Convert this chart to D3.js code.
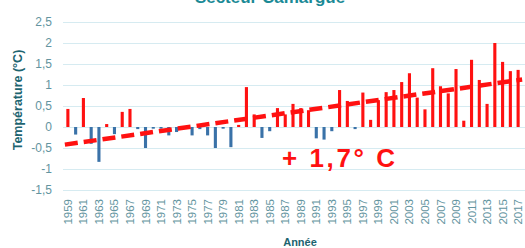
<!DOCTYPE html>
<html>
<head>
<meta charset="utf-8">
<script src="https://cdn.jsdelivr.net/npm/d3@7"></script>
<style>
  html, body { margin: 0; padding: 0; background: #fff; }
  svg { display: block; font-family: "Liberation Sans", Arial, sans-serif; }
</style>
</head>
<body>
<div id="chart"></div>
<script>
// Annual temperature anomaly, Secteur Camargue, with dashed linear trend.

const years = d3.range(1959, 2018);
const anomalies = [
  0.43, -0.18, 0.69, -0.40, -0.83, 0.07, -0.17, 0.36, 0.43, -0.05,
  -0.50, -0.04, -0.04, -0.20, -0.12, -0.04, -0.20, -0.05, -0.20, -0.50,
  -0.04, -0.48, 0.05, 0.95, 0.30, -0.26, -0.10, 0.45, 0.30, 0.55,
  0.45, 0.40, -0.27, -0.30, -0.10, 0.88, 0.62, -0.05, 0.82, 0.17,
  0.64, 0.83, 0.88, 1.07, 1.28, 0.70, 0.42, 1.40, 0.97, 0.80,
  1.38, 0.15, 1.60, 1.12, 0.55, 2.00, 1.55, 1.33, 1.36
];
const trendYears = [1959, 2017];
const trendValues = [-0.42, 1.13];
const yTicks = [-1.5, -1, -0.5, 0, 0.5, 1, 1.5, 2, 2.5];
const yTickLabels = ['-1,5', '-1', '-0,5', '0', '0,5', '1', '1,5', '2', '2,5'];
const yearLabels = years.filter((y) => (y - 1959) % 2 === 0);

const W = 525, H = 248;
const plot = { left: 64, right: 522, top: 22, bottom: 190 };

const svg = d3.select('#chart').append('svg')
  .attr('width', W).attr('height', H);

const x = d3.scaleBand().domain(years)
  .range([plot.left, plot.right])
  .paddingInner(0.6).paddingOuter(0.3);
const y = d3.scaleLinear().domain([-1.5, 2.5]).range([plot.bottom, plot.top]);

// gridlines
svg.append('g').selectAll('line').data(yTicks).enter().append('line')
  .attr('x1', plot.left - 1).attr('x2', W)
  .attr('y1', (d) => Math.round(y(d)) + 0.5).attr('y2', (d) => Math.round(y(d)) + 0.5)
  .attr('stroke', '#d6ebf1').attr('stroke-width', 1);

// y tick labels
svg.append('g').selectAll('text').data(yTicks).enter().append('text')
  .attr('x', 52).attr('y', (d) => y(d)).attr('dy', '0.35em')
  .attr('text-anchor', 'end')
  .style('font-size', '12px').style('fill', '#6394a0')
  .text((d, i) => yTickLabels[i]);

// x axis (year labels rotated)
const xAxis = d3.axisBottom(x).tickValues(yearLabels).tickSize(0).tickPadding(0);
const gx = svg.append('g').attr('transform', `translate(0, ${plot.bottom})`).call(xAxis);
gx.select('.domain').remove();
gx.selectAll('text')
  .attr('transform', 'rotate(-90)')
  .attr('x', -9).attr('y', 0).attr('dy', '0.35em')
  .attr('text-anchor', 'end')
  .style('font-family', '"Liberation Sans", Arial, sans-serif')
  .style('font-size', '11.5px').style('fill', '#6394a0');

// bars
svg.append('g').selectAll('rect').data(years).enter().append('rect')
  .attr('x', (d) => x(d))
  .attr('width', x.bandwidth())
  .attr('y', (d, i) => y(Math.max(0, anomalies[i])))
  .attr('height', (d, i) => Math.abs(y(anomalies[i]) - y(0)))
  .attr('fill', (d, i) => anomalies[i] >= 0 ? '#ff1111' : '#3a72a8');

// trend line
const tx = (yr) => x(yr) + x.bandwidth() / 2;
svg.append('line')
  .attr('x1', tx(trendYears[0]) - 3).attr('y1', y(trendValues[0]))
  .attr('x2', tx(trendYears[1]) + 4).attr('y2', y(trendValues[1]))
  .attr('stroke', '#ff1111').attr('stroke-width', 4.5)
  .attr('stroke-dasharray', '13,6');

// annotation
svg.append('text')
  .attr('x', 282).attr('y', 167)
  .attr('textLength', 113).attr('lengthAdjust', 'spacing')
  .style('font-size', '26px').style('font-weight', 'bold').style('fill', '#ff1111')
  .text('+ 1,7° C');

// title (cut off at top, as in the source image)
svg.append('text')
  .attr('x', 270).attr('y', 3).attr('text-anchor', 'middle')
  .style('font-size', '17px').style('font-weight', 'bold').style('fill', '#1b8a96')
  .text('Secteur Camargue');

// axis titles
svg.append('text')
  .attr('transform', 'translate(22, 100) rotate(-90)')
  .attr('text-anchor', 'middle')
  .style('font-size', '12.5px').style('font-weight', 'bold').style('fill', '#1d6470')
  .text('Température (°C)');

svg.append('text')
  .attr('x', 300).attr('y', 246).attr('text-anchor', 'middle')
  .style('font-size', '11px').style('font-weight', 'bold').style('fill', '#1d6470')
  .text('Année');
</script>
</body>
</html>
